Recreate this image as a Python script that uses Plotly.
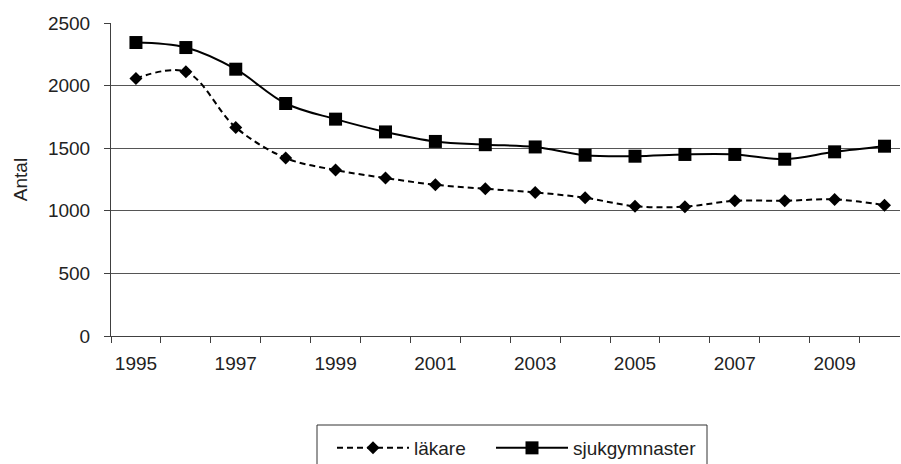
import plotly.graph_objects as go

years = [str(y) for y in range(1995, 2011)]
tick_text = [y if int(y) % 2 == 1 else "" for y in years]

lakare = [2057, 2110, 1666, 1422, 1325, 1262, 1208, 1176, 1147, 1104, 1037, 1033, 1080, 1080, 1091, 1045]
sjukgymnaster = [2344, 2304, 2131, 1857, 1732, 1630, 1554, 1528, 1510, 1444, 1436, 1450, 1450, 1412, 1471, 1516]

y_ticks = [0, 500, 1000, 1500, 2000, 2500]
grid_vals = [500, 1000, 1500, 2000]

FONT = "Liberation Sans, Arial, sans-serif"
TXT = "#222222"
AX = "#404040"

# plot-area pixel geometry (used to place legend/box in paper coords)
L, R, T, B, W, H = 111, 1, 23, 128, 901, 464
PW, PH = W - L - R, H - T - B
def px_x(p):
    return (p - L) / PW
def px_y(p):
    return (H - B - p) / PH

fig = go.Figure()
fig.add_trace(go.Scatter(
    x=years, y=lakare, name="läkare", mode="lines+markers",
    line=dict(color="black", width=2, dash="6px,4px", shape="spline", smoothing=1),
    marker=dict(symbol="diamond", size=10, color="black"),
    legendwidth=72,
))
fig.add_trace(go.Scatter(
    x=years, y=sjukgymnaster, name="sjukgymnaster", mode="lines+markers",
    line=dict(color="black", width=2, shape="spline", smoothing=1),
    marker=dict(symbol="square", size=13, color="black"),
))
# invisible trace to activate yaxis2 grid
fig.add_trace(go.Scatter(x=[years[0]], y=[None], yaxis="y2", showlegend=False, hoverinfo="skip"))

fig.update_layout(
    width=W, height=H,
    margin=dict(l=L, r=R, t=T, b=B, autoexpand=False),
    paper_bgcolor="white", plot_bgcolor="white",
    font=dict(family=FONT, size=19, color=TXT),
    xaxis=dict(
        type="category", range=[-0.5, 15.31],
        tickmode="array", tickvals=years, ticktext=tick_text, tickangle=0,
        tickson="boundaries", ticks="outside", ticklen=6, tickcolor=AX, tickwidth=1,
        showline=True, linecolor=AX, linewidth=1, showgrid=False, zeroline=False,
        tickfont=dict(size=19, color=TXT), ticklabelstandoff=10,
    ),
    yaxis=dict(
        range=[0, 2500], tickmode="array", tickvals=y_ticks,
        ticks="outside", ticklen=6, tickcolor=AX, tickwidth=1,
        showline=True, linecolor=AX, linewidth=1, showgrid=False, zeroline=False,
        tickfont=dict(size=19, color=TXT), ticklabelstandoff=10,
        title=dict(text="Antal", font=dict(size=19, color=TXT), standoff=15),
    ),
    yaxis2=dict(
        overlaying="y", range=[0, 2500], tickmode="array", tickvals=grid_vals,
        showgrid=True, gridcolor="#555555", gridwidth=1, showticklabels=False,
        ticks="", showline=False, zeroline=False,
    ),
    showlegend=True,
    legend=dict(
        orientation="h", x=px_x(332), xanchor="left",
        y=px_y(429), yanchor="top",
        borderwidth=0, bgcolor="rgba(0,0,0,0)",
        font=dict(size=19, color=TXT), itemwidth=72,
    ),
    shapes=[dict(
        type="rect", xref="paper", yref="paper",
        x0=px_x(317), x1=px_x(707), y0=px_y(425), y1=px_y(490),
        line=dict(color="#333333", width=1), fillcolor="rgba(0,0,0,0)", layer="below",
    )],
)

fig.write_html("out.html", config={"displayModeBar": False},
               post_script="document.body.style.margin='0';")
